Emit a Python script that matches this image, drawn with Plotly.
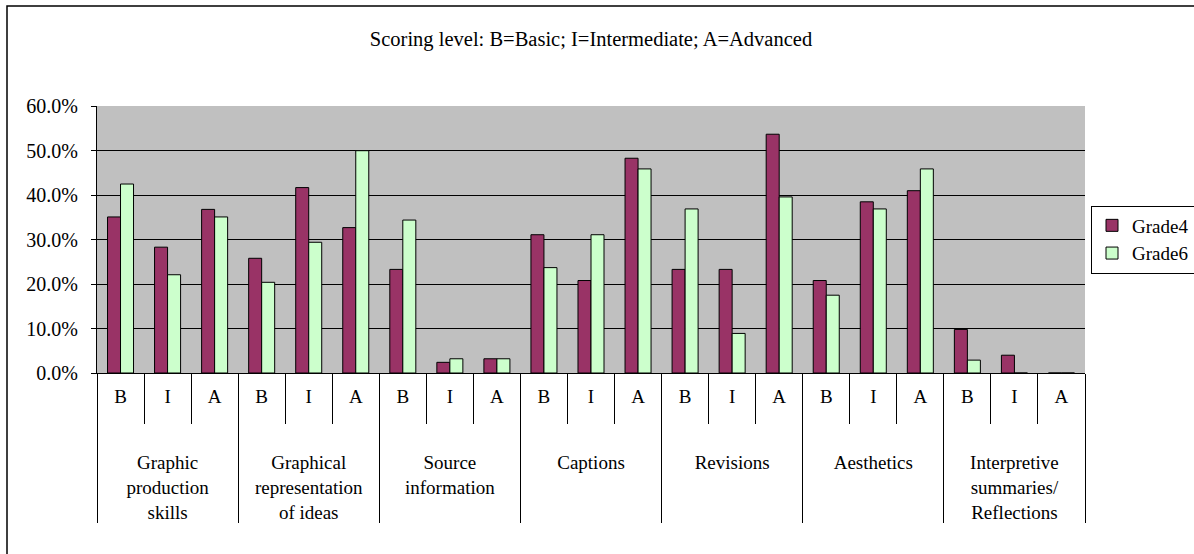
import plotly.graph_objects as go

groups = [
    "Graphic<br>production<br>skills",
    "Graphical<br>representation<br>of ideas",
    "Source<br>information",
    "Captions",
    "Revisions",
    "Aesthetics",
    "Interpretive<br>summaries/<br>Reflections",
]
levels = ["B", "I", "A"]

grade4 = [35.1, 28.3, 36.8, 25.8, 41.7, 32.7, 23.3, 2.4, 3.2, 31.1, 20.8, 48.3,
          23.3, 23.3, 53.7, 20.8, 38.5, 41.0, 9.8, 4.0, 0.0]
grade6 = [42.5, 22.1, 35.1, 20.4, 29.4, 50.0, 34.4, 3.2, 3.2, 23.7, 31.1, 45.9,
          36.9, 8.9, 39.6, 17.5, 36.9, 45.9, 2.9, 0.0, 0.0]

y_ticks = [0, 0.1, 0.2, 0.3, 0.4, 0.5, 0.6]

x_outer = [g for g in groups for _ in levels]
# blank padding lines push the group names lower, as in the original
x_inner = [l + "<br>&nbsp;<br>&nbsp;" for _ in groups for l in levels]

FONT = "Liberation Serif, Times New Roman, serif"

fig = go.Figure()
fig.add_trace(go.Bar(
    x=[x_outer, x_inner], y=[v / 100 for v in grade4], name="Grade4",
    marker=dict(color="#993366", line=dict(color="black", width=1)),
))
fig.add_trace(go.Bar(
    x=[x_outer, x_inner], y=[v / 100 for v in grade6], name="Grade6",
    marker=dict(color="#CCFFCC", line=dict(color="black", width=1)),
))

L, R, T, B = 97, 109, 106, 181
W, H = 1194, 554
pw, ph = W - L - R, H - T - B

def px_x(x):
    return (x - L) / pw

def px_y(y):
    return (H - B - y) / ph

fig.update_layout(
    width=W, height=H,
    margin=dict(l=L, r=R, t=T, b=B, autoexpand=False),
    paper_bgcolor="white",
    plot_bgcolor="#C0C0C0",
    font=dict(family=FONT, size=19, color="black"),
    barmode="group",
    bargap=0.447,
    bargroupgap=0,
    title=dict(text="Scoring level: B=Basic; I=Intermediate; A=Advanced",
               x=0.5, xref="paper", xanchor="center",
               y=1 - 39 / H, yref="container", yanchor="middle",
               font=dict(family=FONT, size=20.5, color="black")),
    legend=dict(x=px_x(1091), xanchor="left", y=0.5, yanchor="middle",
                bgcolor="white", bordercolor="black", borderwidth=1,
                font=dict(family=FONT, size=19, color="black"),
                itemwidth=30, tracegroupgap=0),
    showlegend=True,
    xaxis=dict(
        type="multicategory",
        showline=True, linecolor="black", linewidth=1,
        ticks="outside", tickson="boundaries", ticklen=50, tickcolor="black",
        showdividers=True, dividercolor="black", dividerwidth=1,
        tickfont=dict(family=FONT, size=19, color="black"),
        ticklabelstandoff=6,
        showgrid=False,
    ),
    yaxis=dict(
        range=[0, 0.6005],
        tickvals=y_ticks, tickformat=".1%",
        showgrid=True, gridcolor="black", gridwidth=1,
        showline=True, linecolor="black", linewidth=1,
        ticks="outside", ticklen=5, tickcolor="black",
        tickfont=dict(family=FONT, size=20, color="black"),
        ticklabelstandoff=9,
        zeroline=False,
    ),
    shapes=[dict(type="rect", xref="paper", yref="paper",
                 x0=px_x(7), x1=px_x(1230), y0=px_y(6), y1=px_y(600),
                 line=dict(color="black", width=1.5), fillcolor="rgba(0,0,0,0)",
                 layer="below")],
)

fig.write_html(
    "out.html",
    config={"displayModeBar": False},
    post_script="document.body.style.margin='0';document.body.style.overflow='hidden';",
)
